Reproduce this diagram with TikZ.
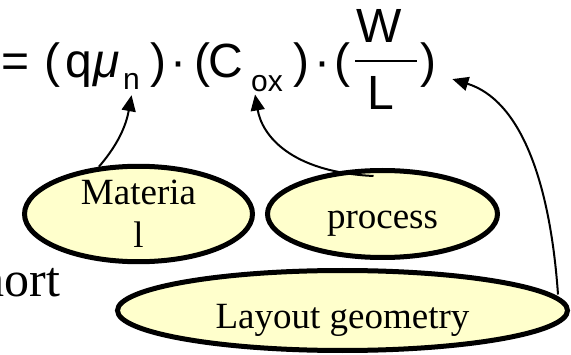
\documentclass[tikz,border=0pt]{standalone}
\usepackage{fontspec}
\setmainfont{Liberation Serif}
\newfontfamily\eqfont{Liberation Sans}
\usetikzlibrary{arrows.meta,shapes.geometric}
\definecolor{bubblefill}{RGB}{255,255,204}
\tikzset{
  bubble/.style={ellipse,draw=black,line width=5pt,fill=bubblefill,inner sep=0pt,
    font=\fontsize{37}{43}\selectfont},
  eqpart/.style={anchor=base west,inner sep=0pt,font=\eqfont\fontsize{48}{52}\selectfont},
  eqsub/.style={anchor=base west,inner sep=0pt,font=\eqfont\fontsize{30}{34}\selectfont},
  link/.style={line width=2pt,-{Triangle[length=16pt,width=14pt]}},
}
\begin{document}
\begin{tikzpicture}[x=1pt,y=1pt]
\useasboundingbox (0,0) rectangle (571,354);
\clip (0,0) rectangle (571,354);
% equation
\node[eqpart] (eq) at (1,276) {=};
\node[eqpart] (lp1) at (44,276) {(};
\node[eqpart] (q) at (65,276) {q};
\node[eqpart] (mu) at (93,276) {\itshape μ};
\node[eqsub] (subn) at (123,264) {n};
\node[eqpart] (rp1) at (150,276) {)};
\node[eqpart,anchor=base] (dot1) at (178,276) {·};
\node[eqpart] (lp2) at (194,276) {(};
\node[eqpart] (cap) at (208,276) {C};
\node[eqpart,eqsub] (subox) at (251,262) {ox};
\node[eqpart] (rp2) at (293,276) {)};
\node[eqpart,anchor=base] (dot2) at (322,276) {·};
\node[eqpart] (lp3) at (334,276) {(};
\node[eqpart,anchor=base] (wid) at (379,311) {W};
\draw[line width=2.5pt] (355,293) -- (417,293);
\node[eqpart,anchor=base] (len) at (381,244) {L};
\node[eqpart] (rp3) at (420,276) {)};
% bubbles
\node[bubble,minimum width=228pt,minimum height=87pt,align=center] (matl) at (138.5,140) {Materia\\l};
\node[bubble,minimum width=230pt,minimum height=87pt,text height=32pt,text depth=2pt] (proc) at (382.5,140) {process};
\node[bubble,minimum width=450pt,minimum height=80pt,text height=38pt,text depth=3pt] (lay) at (342.5,43.5) {Layout geometry};
\node[anchor=base west,inner sep=0pt,font=\fontsize{50}{54}\selectfont] (hort) at (-20.5,57) {hort};
% arrows
\draw[link] (matl.130) .. controls (122,214) and (127,234) .. ([yshift=-5pt]subn.south);
\draw[link] ([shift={(-9pt,-8pt)}]proc.north) .. controls (290,182) and (262,219) .. ([shift={(-12pt,-2pt)}]subox.south);
\draw[link] ([shift={(-12pt,16pt)}]lay.east) .. controls (550,174) and (520,254) .. ([shift={(16pt,-13.5pt)}]rp3.east);
\end{tikzpicture}
\end{document}
